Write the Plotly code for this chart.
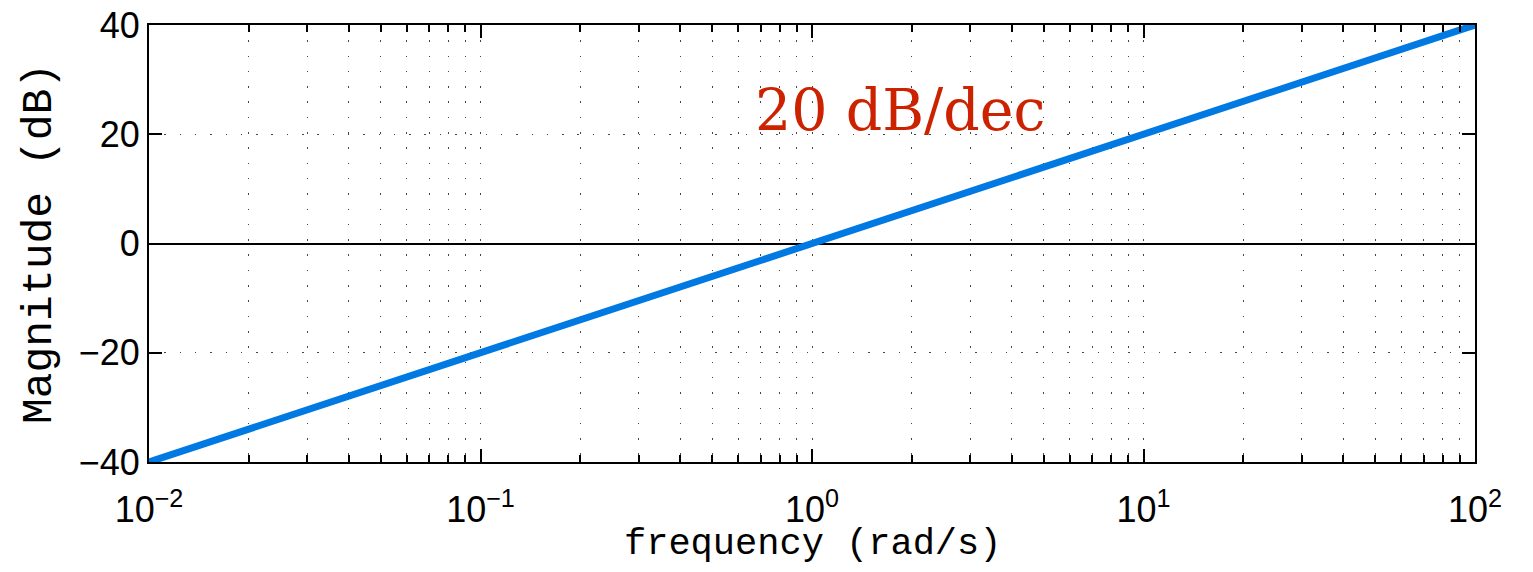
import plotly.graph_objects as go

# Data
frequency = [0.01, 0.1, 1, 10, 100]          # rad/s
magnitude_db = [-40, -20, 0, 20, 40]          # dB
x_tickvals = [0.01, 0.1, 1, 10, 100]
x_ticktext = ["10<sup>−2</sup>", "10<sup>−1</sup>", "10<sup>0</sup>", "10<sup>1</sup>", "10<sup>2</sup>"]
y_tickvals = [-40, -20, 0, 20, 40]
y_ticktext = ["−40", "−20", "0", "20", "40"]
x_title = "frequency (rad/s)"
y_title = "Magnitude (dB)"
slope_label = "20 dB/dec"

fig = go.Figure()
fig.add_trace(go.Scatter(
    x=frequency, y=magnitude_db, mode="lines",
    line=dict(color="#0079E3", width=7),
    showlegend=False, hoverinfo="skip",
))

grid_dash = "1.5px,13.8px"
mono = "Liberation Mono, Courier New, monospace"

fig.update_layout(
    width=1517, height=556,
    margin=dict(l=141, r=50, t=17, b=102),
    paper_bgcolor="white", plot_bgcolor="white",
    font=dict(family="Liberation Sans, Arial, sans-serif", color="black"),
    xaxis=dict(
        type="log", range=[-2, 2],
        tickvals=x_tickvals, ticktext=x_ticktext,
        tickfont=dict(size=36, family="Liberation Sans, Arial, sans-serif"),
        ticks="inside", ticklen=13, tickwidth=1.5, tickcolor="black",
        showline=True, linecolor="black", linewidth=2, mirror="ticks",
        showgrid=True, gridcolor="#444", gridwidth=1, griddash=grid_dash,
        minor=dict(ticks="inside", ticklen=7, tickwidth=1.5, tickcolor="black",
                   showgrid=True, gridcolor="#444", gridwidth=1, griddash=grid_dash,
                   tickvals=[m * d for d in [0.01, 0.1, 1, 10] for m in range(2, 10)]),
        zeroline=False,
        automargin=False,
        ticklabelstandoff=15,
        ticklabeloverflow="allow",
    ),
    yaxis=dict(
        range=[-40, 40],
        tickvals=y_tickvals, ticktext=y_ticktext,
        tickfont=dict(size=36, family="Liberation Sans, Arial, sans-serif"),
        ticks="inside", ticklen=13, tickwidth=1.5, tickcolor="black",
        showline=True, linecolor="black", linewidth=2, mirror="ticks",
        showgrid=True, gridcolor="#444", gridwidth=1, griddash=grid_dash,
        zeroline=True, zerolinecolor="black", zerolinewidth=1.5,
        title=dict(text=y_title, font=dict(family=mono, size=43), standoff=14),
        automargin=False,
        ticklabeloverflow="allow",
    ),
    annotations=[
        dict(x=0.265, y=24.5, xref="x", yref="y",
             text=slope_label, showarrow=False,
             font=dict(family="DejaVu Serif, Liberation Serif, serif", size=57, color="#CC2200")),
        dict(x=0.5, y=0, xref="paper", yref="paper", xanchor="center", yanchor="middle",
             yshift=-82, text=x_title, showarrow=False,
             font=dict(family=mono, size=37, color="black")),
    ],
)

fig.write_html("out.html")
